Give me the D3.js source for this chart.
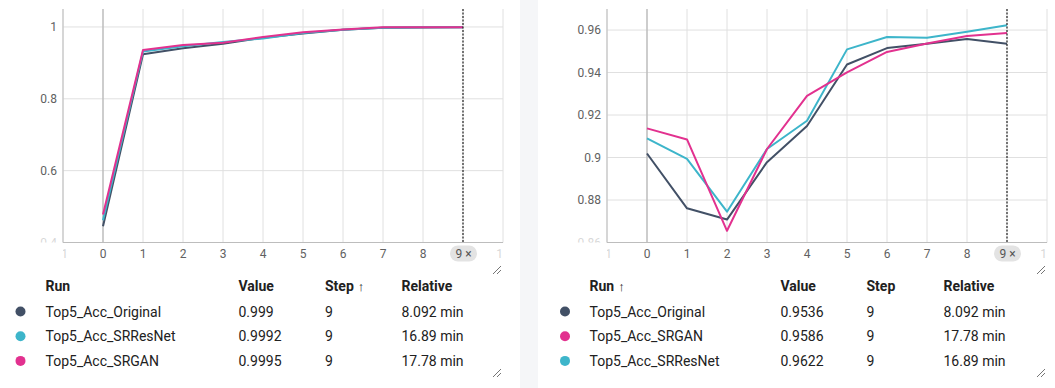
<!DOCTYPE html>
<html>
<head>
<meta charset="utf-8">
<script src="https://cdn.jsdelivr.net/npm/d3@7"></script>
<style>
  body { margin: 0; background: #f5f6f8; font-family: Roboto, "Noto Sans", sans-serif; }
  svg { display: block; }
</style>
</head>
<body>
<svg id="chart" width="1055" height="388"></svg>
<script>
// data
const steps = [0, 1, 2, 3, 4, 5, 6, 7, 8, 9];
const xTicks = [-1, 0, 1, 2, 3, 4, 5, 6, 7, 8, 9, 10];

// left panel (train top5 acc)
const leftOriginal = [0.445, 0.924, 0.941, 0.953, 0.970, 0.982, 0.992, 0.998, 0.9988, 0.999];
const leftSRResNet = [0.462, 0.932, 0.946, 0.958, 0.968, 0.983, 0.992, 0.998, 0.999, 0.9992];
const leftSRGAN    = [0.478, 0.936, 0.950, 0.956, 0.972, 0.985, 0.993, 0.999, 0.9993, 0.9995];
const leftYTicks = [0.4, 0.6, 0.8, 1];

// right panel (val top5 acc)
const rightOriginal = [0.9019, 0.8761, 0.8708, 0.8978, 0.9148, 0.9438, 0.9515, 0.9535, 0.9558, 0.9536];
const rightSRResNet = [0.9090, 0.8994, 0.8745, 0.9040, 0.9173, 0.9509, 0.9567, 0.9564, 0.9592, 0.9622];
const rightSRGAN    = [0.9137, 0.9085, 0.8655, 0.9040, 0.9290, 0.9401, 0.9497, 0.9537, 0.9572, 0.9586];
const rightYTicks = [0.86, 0.88, 0.9, 0.92, 0.94, 0.96];

// table rows
const leftRuns = ["Top5_Acc_Original", "Top5_Acc_SRResNet", "Top5_Acc_SRGAN"];
const leftValues = ["0.999", "0.9992", "0.9995"];
const leftRelative = ["8.092 min", "16.89 min", "17.78 min"];
const rightRuns = ["Top5_Acc_Original", "Top5_Acc_SRGAN", "Top5_Acc_SRResNet"];
const rightValues = ["0.9536", "0.9586", "0.9622"];
const rightRelative = ["8.092 min", "17.78 min", "16.89 min"];

const colors = {
  Top5_Acc_Original: "#425066",
  Top5_Acc_SRResNet: "#3db5ca",
  Top5_Acc_SRGAN: "#e2318f"
};

const svg = d3.select("#chart");

// white panels
svg.append("rect").attr("x", 0).attr("y", 0).attr("width", 520).attr("height", 388).attr("fill", "#fff");
svg.append("rect").attr("x", 538).attr("y", 0).attr("width", 517).attr("height", 388).attr("fill", "#fff");

function drawChart(id, left, yDomain, yTicks, yFmt, series) {
  const top = 9, bottom = 242.5, width = 440;
  const g = svg.append("g");
  const x = d3.scaleLinear().domain([-1, 10]).range([left, left + width]);
  const y = d3.scaleLinear().domain(yDomain).range([bottom, top]);

  // clip regions for the tick labels
  const defs = svg.append("defs");
  defs.append("clipPath").attr("id", id + "-xc").append("rect")
    .attr("x", left).attr("y", bottom).attr("width", width).attr("height", 30);
  defs.append("clipPath").attr("id", id + "-yc").append("rect")
    .attr("x", left - 60).attr("y", 0).attr("width", 60).attr("height", bottom);

  // grid
  g.append("g").selectAll("line").data(yTicks).join("line")
    .attr("x1", left).attr("x2", left + width)
    .attr("y1", d => y(d)).attr("y2", d => y(d))
    .attr("stroke", "#e0e0e0").attr("stroke-width", 1);
  g.append("g").selectAll("line").data(xTicks).join("line")
    .attr("x1", d => x(d)).attr("x2", d => x(d))
    .attr("y1", top).attr("y2", bottom)
    .attr("stroke", d => d === 0 ? "#bdbdbd" : "#e0e0e0")
    .attr("stroke-width", d => d === 0 ? 1.5 : 1);

  // axes lines
  g.append("line").attr("x1", left).attr("x2", left).attr("y1", top).attr("y2", bottom)
    .attr("stroke", "#bdbdbd");
  g.append("line").attr("x1", left).attr("x2", left + width).attr("y1", bottom).attr("y2", bottom)
    .attr("stroke", "#bdbdbd");

  // y labels
  g.append("g").attr("clip-path", `url(#${id}-yc)`).selectAll("text").data(yTicks).join("text")
    .attr("x", left - 6).attr("y", d => y(d) + 4)
    .attr("text-anchor", "end").attr("font-size", 12)
    .attr("fill", "#616161")
    .attr("opacity", d => d === yDomain[0] ? 0.25 : 1)
    .text(yFmt);

  // x labels
  g.append("g").attr("clip-path", `url(#${id}-xc)`).selectAll("text").data(xTicks.filter(d => d !== 9)).join("text")
    .attr("x", d => x(d)).attr("y", bottom + 15.5)
    .attr("text-anchor", "middle").attr("font-size", 12)
    .attr("fill", "#616161")
    .attr("opacity", d => (d === -1 || d === 10) ? 0.25 : 1)
    .text(d => d);

  // lines
  const line = d3.line().x((d, i) => x(steps[i])).y(d => y(d));
  series.forEach(s => {
    g.append("path").datum(s.values)
      .attr("d", line).attr("fill", "none")
      .attr("stroke", colors[s.name]).attr("stroke-width", 2)
      .attr("stroke-linejoin", "round");
  });

  // hover step marker
  g.append("line").attr("x1", x(9)).attr("x2", x(9)).attr("y1", top).attr("y2", bottom)
    .attr("stroke", "#222").attr("stroke-dasharray", "2,1.5").attr("stroke-width", 1.2);
  g.append("rect").attr("x", x(9) - 13).attr("y", bottom + 3).attr("width", 27).attr("height", 16)
    .attr("rx", 8).attr("fill", "#e3e3e3");
  g.append("text").attr("x", x(9) + 0.5).attr("y", bottom + 15.5).attr("text-anchor", "middle")
    .attr("font-size", 12).attr("fill", "#555").text("9 \u00d7");
}

function drawTable(px, cols, runs, values, relative, sortCol) {
  const g = svg.append("g");
  const headers = ["Run", "Value", "Step", "Relative"];
  headers.forEach((h, i) => {
    const t = g.append("text").attr("x", cols[i]).attr("y", 291)
      .attr("font-size", 14).attr("font-weight", 700).attr("fill", "#212121").text(h);
    if (i === sortCol) t.append("tspan").attr("font-weight", 400).attr("font-size", 13).attr("dx", 4).text("\u2191");
  });
  runs.forEach((r, i) => {
    const yy = 316.5 + i * 24.7;
    g.append("circle").attr("cx", px).attr("cy", yy - 5).attr("r", 5).attr("fill", colors[r]);
    g.append("text").attr("x", cols[0]).attr("y", yy).attr("font-size", 14).attr("fill", "#212121").text(r);
    g.append("text").attr("x", cols[1]).attr("y", yy).attr("font-size", 14).attr("fill", "#212121").text(values[i]);
    g.append("text").attr("x", cols[2]).attr("y", yy).attr("font-size", 14).attr("fill", "#212121").text("9");
    g.append("text").attr("x", cols[3]).attr("y", yy).attr("font-size", 14).attr("fill", "#212121").text(relative[i]);
  });
}

function resizeIcon(cx, cy) {
  const g = svg.append("g").attr("stroke", "#757575").attr("stroke-width", 1);
  g.append("line").attr("x1", cx - 4).attr("y1", cy + 4).attr("x2", cx + 4).attr("y2", cy - 4);
  g.append("line").attr("x1", cx).attr("y1", cy + 4).attr("x2", cx + 4).attr("y2", cy);
}

drawChart("l", 63, [0.4, 1.05], leftYTicks, d => d3.format("")(d), [
  { name: "Top5_Acc_Original", values: leftOriginal },
  { name: "Top5_Acc_SRResNet", values: leftSRResNet },
  { name: "Top5_Acc_SRGAN", values: leftSRGAN }
]);
drawChart("r", 607, [0.86, 0.9699], rightYTicks, d => d3.format("")(d), [
  { name: "Top5_Acc_Original", values: rightOriginal },
  { name: "Top5_Acc_SRResNet", values: rightSRResNet },
  { name: "Top5_Acc_SRGAN", values: rightSRGAN }
]);

drawTable(20.5, [45.5, 238.5, 325, 401.5], leftRuns, leftValues, leftRelative, 2);
drawTable(565, [589.5, 780.5, 866.5, 943.5], rightRuns, rightValues, rightRelative, 0);

resizeIcon(497, 270); resizeIcon(497, 373);
resizeIcon(1041, 270); resizeIcon(1041, 373);
</script>
</body>
</html>
